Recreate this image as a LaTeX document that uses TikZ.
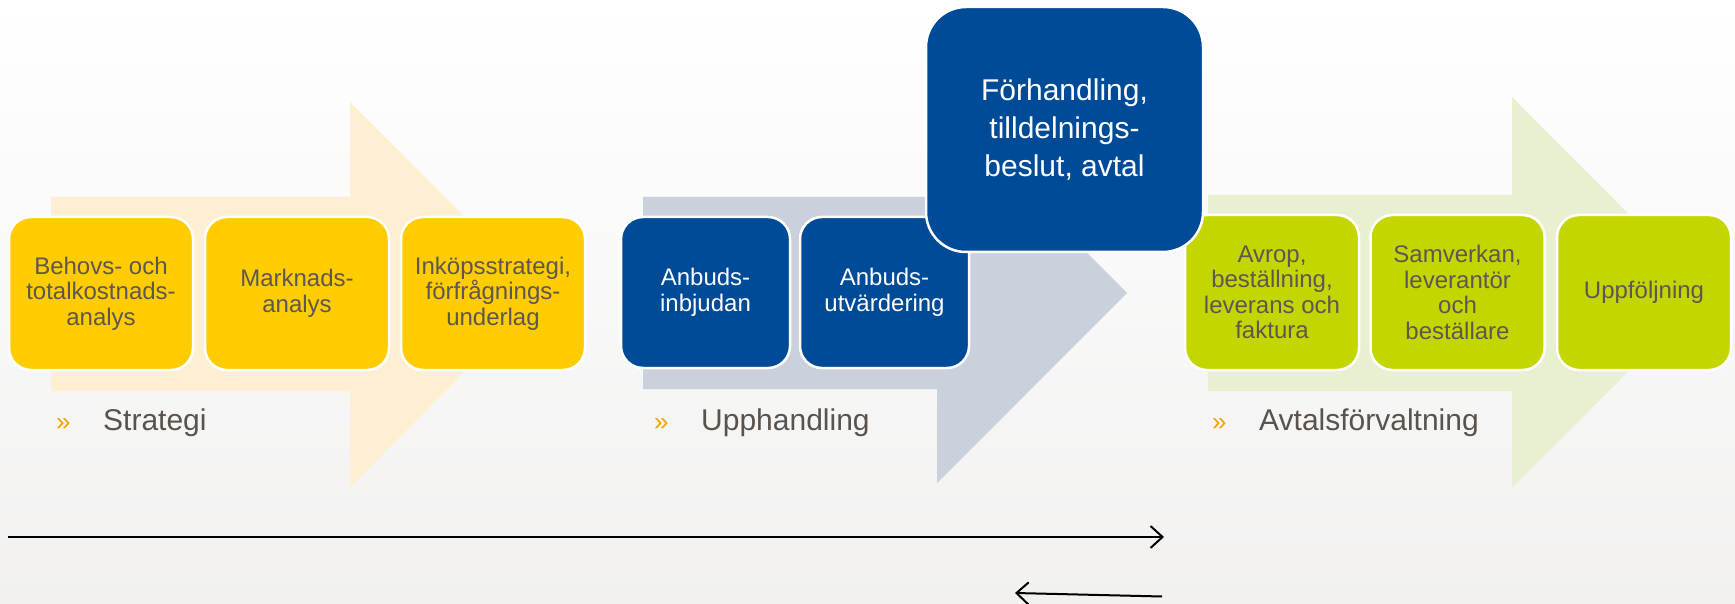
\documentclass[tikz,border=0pt]{standalone}
\usepackage{fontspec}
\setmainfont{Liberation Sans}
\usetikzlibrary{arrows.meta}
\definecolor{bgbottom}{RGB}{242,241,240}
\definecolor{yellowbox}{RGB}{255,204,0}
\definecolor{yellowarrow}{RGB}{255,239,210}
\definecolor{bluebox}{RGB}{0,75,152}
\definecolor{grayarrow}{RGB}{202,208,220}
\definecolor{greenbox}{RGB}{196,214,0}
\definecolor{greenarrow}{RGB}{233,240,210}
\definecolor{boxtext}{RGB}{94,86,80}
\definecolor{labeltext}{RGB}{90,82,76}
\definecolor{bulletorange}{RGB}{245,163,0}
\tikzset{
  stepbox/.style={rounded corners=22pt, draw=white, line width=2.5pt, align=center, inner sep=0pt,
    font=\fontsize{24pt}{25.5pt}\selectfont},
  ybox/.style={stepbox, fill=yellowbox, text=boxtext, minimum width=184pt, minimum height=153pt},
  bbox/.style={stepbox, fill=bluebox, text=white, minimum width=169pt, minimum height=151pt},
  gbox/.style={stepbox, fill=greenbox, text=boxtext, minimum width=174pt, minimum height=155pt},
  bigbox/.style={rounded corners=40pt, draw=white, line width=2.5pt, align=center, inner sep=0pt,
    fill=bluebox, text=white, font=\fontsize{30pt}{38pt}\selectfont, minimum width=277pt, minimum height=245pt},
  phase/.style={anchor=base west, text=labeltext, font=\fontsize{30pt}{36pt}\selectfont, inner sep=0pt},
  bullet/.style={anchor=base west, text=bulletorange, font=\fontsize{26pt}{30pt}\selectfont, inner sep=0pt},
  timeline/.style={line width=2pt, draw=black, -{Straight Barb[length=12pt,width=22pt]}}
}
\begin{document}
\begin{tikzpicture}
\useasboundingbox (0pt,0pt) rectangle (1735pt,-604pt);
\shade[top color=white,bottom color=bgbottom] (0pt,0pt) rectangle (1735pt,-604pt);
\begin{scope}[x=1pt,y=-1pt]
  % big background arrows
  \fill[yellowarrow] (51,197) -- (350,197) -- (350,102) -- (542,294.5) -- (350,487) -- (350,391) -- (51,391) -- cycle;
  \fill[grayarrow] (643,197) -- (937,197) -- (937,103) -- (1127,293) -- (937,483) -- (937,389) -- (643,389) -- cycle;
  \fill[greenarrow] (1208,195) -- (1512,195) -- (1512,97) -- (1707,292.5) -- (1512,488) -- (1512,391) -- (1208,391) -- cycle;

  % strategy
  \node[ybox] (s1) at (101,293.5) {Behovs- och\\totalkostnads-\\analys};
  \node[ybox] (s2) at (297,293.5) {Marknads-\\analys};
  \node[ybox] (s3) at (493,293.5) {Inköpsstrategi,\\förfrågnings-\\underlag};

  % procurement
  \node[bbox] (u1) at (705.5,292.5) {Anbuds-\\inbjudan};
  \node[bbox] (u2) at (884.5,292.5) {Anbuds-\\utvärdering};

  % contract management
  \node[gbox] (a1) at (1272,292.5) {Avrop,\\beställning,\\leverans och\\faktura};
  \node[gbox] (a2) at (1457.5,292.5) {Samverkan,\\leverantör\\och\\beställare};
  \node[gbox] (a3) at (1644,292.5) {Uppföljning};

  % big box on top
  \node[bigbox] (f) at (1064.5,129.5) {Förhandling,\\tilldelnings-\\beslut, avtal};

  % phase labels
  \node[bullet] (b1) at (56,430) {»};
  \node[phase] (p1) at (103,430) {Strategi};
  \node[bullet] (b2) at (654,430) {»};
  \node[phase] (p2) at (701,430) {Upphandling};
  \node[bullet] (b3) at (1212,430) {»};
  \node[phase] (p3) at (1259,430) {Avtalsförvaltning};

  % time lines
  \coordinate (l1s) at (8,537);
  \coordinate (l1e) at (1164,537);
  \coordinate (l2s) at (1162,596.5);
  \coordinate (l2e) at (1015,593);
  \draw[timeline] (l1s) -- (l1e);
  \draw[timeline] (l2s) -- (l2e);
\end{scope}
\end{tikzpicture}
\end{document}
